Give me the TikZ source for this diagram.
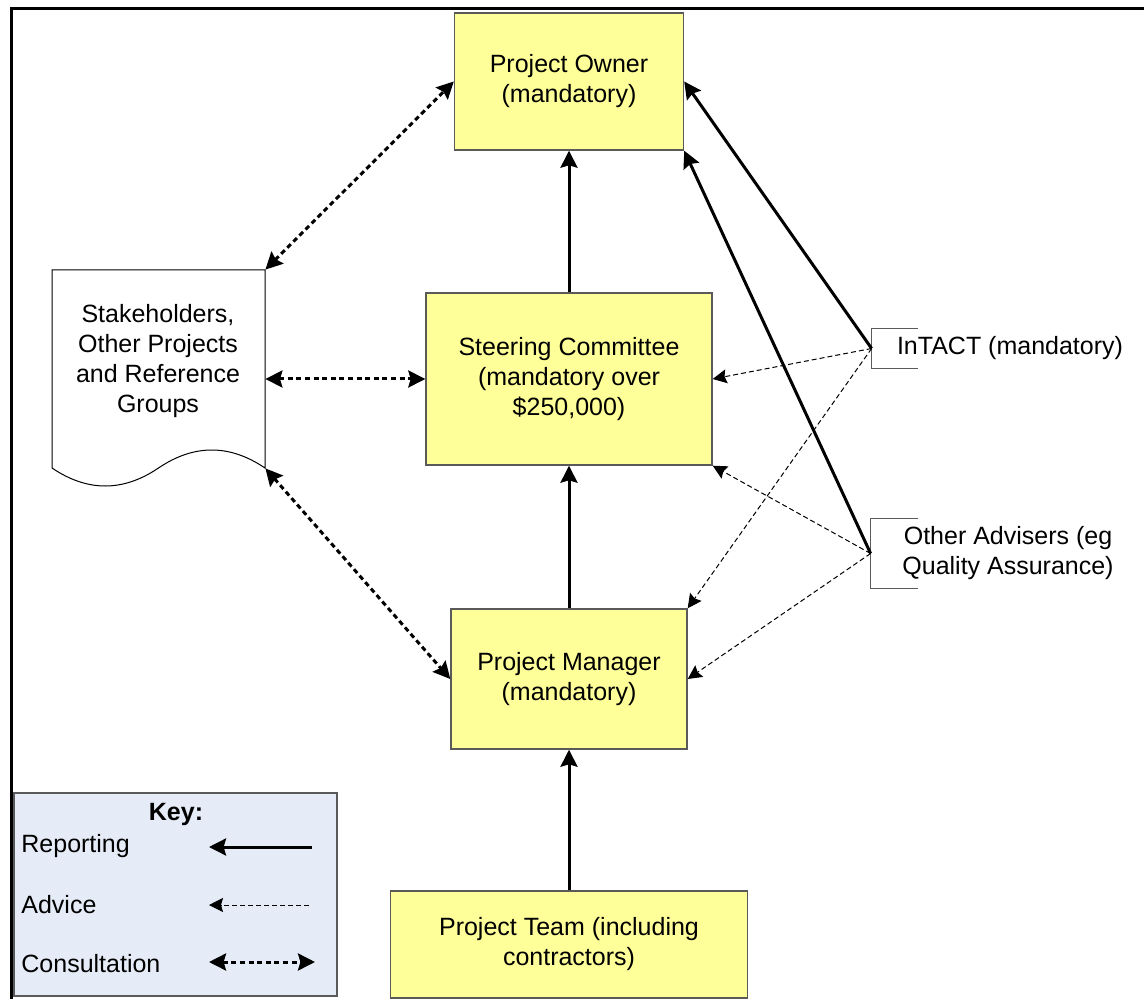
\documentclass[tikz,border=0pt]{standalone}
\usepackage{fontspec}
\setmainfont{Liberation Sans}
\usetikzlibrary{arrows.meta}
\definecolor{boxfill}{RGB}{255,255,153}
\definecolor{keyfill}{RGB}{230,236,247}
\definecolor{edgegray}{RGB}{90,90,90}

\begin{document}
\begin{tikzpicture}[x=0.5pt,y=-0.5pt,
  font=\fontsize{12.5pt}{15pt}\selectfont,
  role/.style={draw=edgegray, line width=0.7pt, fill=boxfill, align=center, inner sep=0pt},
  report/.style={line width=1.5pt, -{Stealth[length=8.5pt,width=8.5pt,inset=1.2pt]}},
  advice/.style={line width=0.5pt, dash pattern=on 2.5pt off 1.5pt, -{Stealth[length=7pt,width=7pt,inset=1pt]}},
  consult/.style={line width=1.5pt, dash pattern=on 2.5pt off 1.8pt,
    {Stealth[length=8.5pt,width=8.5pt,inset=1.2pt]}-{Stealth[length=8.5pt,width=8.5pt,inset=1.2pt]}},
  keytext/.style={anchor=base west, inner sep=0pt},
]
\useasboundingbox (0,0) rectangle (1144,999);

% frame
\draw[line width=1.5pt] (1144,9) -- (11,9) -- (11,999);

% roles
\node[role, minimum width=114.5pt, minimum height=68.5pt] (owner) at (569,81.5) {Project Owner\\(mandatory)};
\node[role, minimum width=143pt, minimum height=86pt] (steer) at (569,379) {Steering Committee\\(mandatory over\\\$250,000)};
\node[role, minimum width=118pt, minimum height=70pt] (manager) at (569,679) {Project Manager\\(mandatory)};
\node[role, minimum width=178.5pt, minimum height=53.5pt] (team) at (569,944.5) {Project Team (including\\contractors)};

% stakeholders document shape
\node[minimum width=106.5pt, minimum height=99pt, inner sep=0pt] (stake) at (158.5,369) {};
\draw[line width=0.5pt] (52,468) -- (52,270) -- (265,270) -- (265,468)
  .. controls (229.5,444) and (194,444) .. (158.5,468)
  .. controls (123,492) and (87.5,492) .. (52,468) -- cycle;
\node[align=center, inner sep=0pt] (stakelabel) at (158,361) {Stakeholders,\\Other Projects\\and Reference\\Groups};

% advisers with bracket outlines
\node[minimum width=138pt, minimum height=19.5pt, inner sep=0pt] (intact) at (1010,348.5) {InTACT (mandatory)};
\draw[edgegray, line width=0.5pt] ([xshift=23pt]intact.north west) -- (intact.north west)
  -- (intact.south west) -- ([xshift=23pt]intact.south west);
\node[minimum width=137pt, minimum height=34.5pt, inner sep=0pt, align=center] (advisers) at (1008,553.5) {Other Advisers (eg\\Quality Assurance)};
\draw[edgegray, line width=0.5pt] ([xshift=23.5pt]advisers.north west) -- (advisers.north west)
  -- (advisers.south west) -- ([xshift=23.5pt]advisers.south west);

% reporting lines
\draw[report] (steer.north) -- (owner.south);
\draw[report] (manager.north) -- (steer.south);
\draw[report] (team.north) -- (manager.south);
\draw[report] (intact.west) -- (owner.east);
\draw[report] (advisers.west) -- (owner.south east);

% advice lines
\draw[advice] (intact.west) -- (steer.east);
\draw[advice] (intact.west) -- (manager.north east);
\draw[advice] (advisers.west) -- (steer.south east);
\draw[advice] (advisers.west) -- (manager.east);

% consultation lines
\draw[consult] (stake.north east) -- (owner.west);
\draw[consult] (stake.east |- steer.west) -- (steer.west);
\draw[consult] (stake.south east) -- (manager.west);

% key
\node[draw=edgegray, line width=0.7pt, fill=keyfill, minimum width=161.5pt, minimum height=101.5pt, inner sep=0pt] (key) at (175.5,894.5) {};
\node[anchor=base, inner sep=0pt, font=\fontsize{12.5pt}{15pt}\selectfont\bfseries] (keytitle) at (176,820) {Key:};
\node[keytext] (kreport) at (21,852) {Reporting};
\node[keytext] (kadvice) at (21,913) {Advice};
\node[keytext] (kconsult) at (21,972) {Consultation};
\coordinate (krepA) at (312,847);
\coordinate (krepB) at (209,847);
\coordinate (kadvA) at (309,905);
\coordinate (kadvB) at (209,905);
\coordinate (kconA) at (209,962);
\coordinate (kconB) at (315,962);
\draw[report] (krepA) -- (krepB);
\draw[advice] (kadvA) -- (kadvB);
\draw[consult] (kconA) -- (kconB);
\end{tikzpicture}
\end{document}
